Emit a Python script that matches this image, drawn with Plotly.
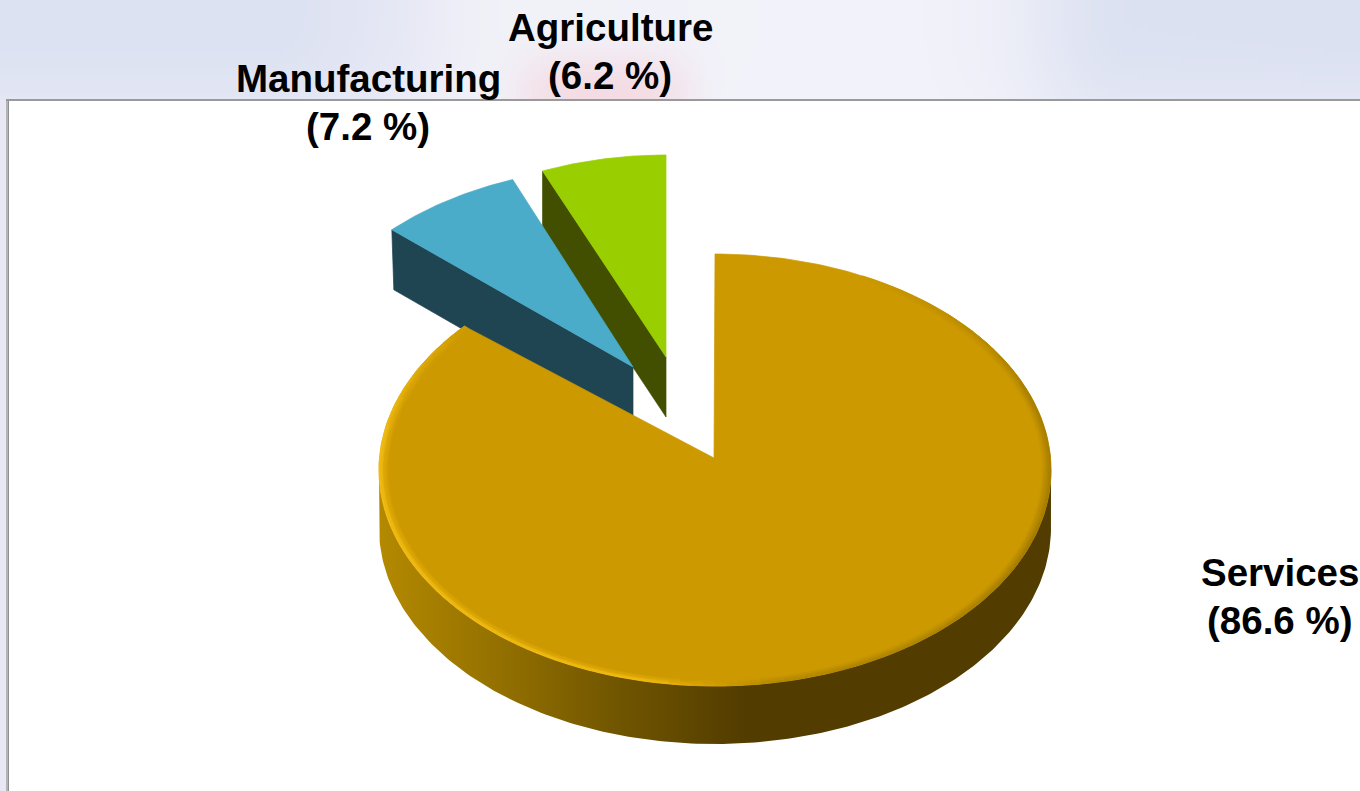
import numpy as np
import plotly.graph_objects as go

# Shares of the economy, in percent, clockwise from twelve o'clock
SECTORS = ["Services", "Manufacturing", "Agriculture"]
SHARES = [86.6, 7.2, 6.2]

TOP_COLORS = ["#cc9900", "#4aacc8", "#99cf00"]
SIDE_COLORS = ["#523c00", "#1f4452", "#424f00"]

# Projected ellipse (cx, cy, rx, ry) and tip (ax, ay) of each wedge on the page
WEDGE_GEOMETRY = [
    (715, 470, 336, 216, 714, 458),
    (638, 359, 330, 194, 633, 367),
    (666, 368, 325, 213, 666, 357),
]
DEPTHS = [58, 60, 60]
FONT = dict(family="Liberation Sans", size=38.5, color="#000000")

# Centre x and first-line y of each two-line label
LABEL_POS = [(1280, 572), (368, 78), (610, 27)]
LINE_STEP = 48


def hex_rgb(h):
    return np.array([int(h[i:i + 2], 16) for i in (1, 3, 5)], dtype=float)


def to_hex(c):
    return "#%02x%02x%02x" % tuple(int(round(v)) for v in c)


def mix(a, b, t):
    return np.asarray(a) * (1 - t) + np.asarray(b) * t


def rim(geom, theta_deg, scale=1.0, dy=0.0):
    cx, cy, rx, ry = geom[:4]
    t = np.radians(theta_deg)
    return cx + scale * rx * np.sin(t), cy - scale * ry * np.cos(t) + dy


# Wedge angles follow from the shares
edges = np.concatenate([[0], np.cumsum(SHARES)]) / sum(SHARES) * 360
spans = list(zip(edges[:-1], edges[1:]))

fig = go.Figure()

# Banner gradient behind the labels, softened along x
bx = np.arange(2, 1360, 4)
by = np.arange(2, 100, 4)
stops_x = [0, 300, 400, 480, 900, 1000, 1100, 1360]
stops_c = ["#dde2f2", "#dde2f2", "#e6e8f5", "#f1f1f8", "#f3f3fb", "#eeeff8", "#dde2f2", "#dce1f2"]
stops_rgb = np.array([hex_rgb(c) for c in stops_c])
kernel = np.ones(15) / 15
banner = np.zeros((len(by), len(bx), 3))
for ch in range(3):
    row = np.interp(bx, stops_x, stops_rgb[:, ch])
    padded = np.concatenate([np.full(7, row[0]), row, np.full(7, row[-1])])
    banner[:, :, ch] = np.convolve(padded, kernel, mode="valid")
lift = (by / 100.0)[:, None, None] ** 3 * 0.3
banner = banner * (1 - lift) + hex_rgb("#f3f4fb") * lift
glow_x = np.exp(-((bx - 605) / 85.0) ** 4)
glow_y = np.clip((by - 35) / 50.0, 0, 1)
glow = np.outer(glow_y, glow_x)[:, :, None] * 0.85
banner = banner * (1 - glow) + hex_rgb("#f5d9e1") * glow
fig.add_trace(go.Image(z=banner.astype(np.uint8), x0=2, dx=4, y0=2, dy=4, hoverinfo="skip"))


def add_polys(polys):
    """Draw a {colour: [(xs, ys), ...]} table as one filled trace per colour."""
    for color, items in polys.items():
        xs, ys = [], []
        for px, py in items:
            xs += list(px) + [px[0], None]
            ys += list(py) + [py[0], None]
        fig.add_trace(go.Scatter(
            x=xs, y=ys, mode="lines", fill="toself", fillcolor=color,
            line=dict(color=color, width=0.7), hoverinfo="skip", showlegend=False,
        ))


# Exploded wedges, back to front
for i in (2, 1):
    g = WEDGE_GEOMETRY[i]
    start, end = spans[i]
    d = DEPTHS[i]
    ax, ay = g[4], g[5]
    sx, sy = rim(g, start)
    side_x = [sx, sx + (2 if i == 1 else 0), ax, ax]
    side_y = [sy, sy + d, ay + d, ay]
    add_polys({SIDE_COLORS[i]: [(side_x, side_y)]})
    th = np.linspace(start, end, 40)
    px, py = rim(g, th)
    add_polys({TOP_COLORS[i]: [([ax] + list(px), [ay] + list(py))]})

# Main wedge: curved wall with a smooth left-to-right shade
g = WEDGE_GEOMETRY[0]
WALL_X = [380, 500, 620, 745, 1060]
WALL_COLORS = ["#b48900", "#937000", "#705500", "#523c00", "#523c00"]
th = np.linspace(90, 270, 200)
tx, ty = rim(g, th)
wall_xs = list(tx) + list(tx[::-1]) + [tx[0]]
wall_ys = list(ty) + list(ty[::-1] + DEPTHS[0]) + [ty[0]]
span = WALL_X[-1] - WALL_X[0]
fig.add_trace(go.Scatter(
    x=wall_xs, y=wall_ys, mode="lines", fill="toself",
    fillgradient=dict(
        type="horizontal", start=WALL_X[0], stop=WALL_X[-1],
        colorscale=[[(x - WALL_X[0]) / span, c] for x, c in zip(WALL_X, WALL_COLORS)],
    ),
    line=dict(width=0), hoverinfo="skip", showlegend=False,
))

# Main wedge: flat top
start, end = spans[0]
th = np.linspace(start, end, 300)
px, py = rim(g, th)
add_polys({TOP_COLORS[0]: [([g[4]] + list(px), [g[5]] + list(py))]})

# Bevel along the rim: bright on the lower left, dark on the right
base = hex_rgb(TOP_COLORS[0])
bright = hex_rgb("#f6c014")
dark = hex_rgb("#a27a00")


def bevel(theta):
    if theta < 178:
        k = np.interp(theta, [25, 70, 110, 170, 178], [0.0, 0.9, 1.0, 0.6, 0.0])
        return dark, k
    k = np.interp(theta, [178, 192, 280, 305, 312], [0.0, 1.0, 1.0, 0.35, 0.0])
    return bright, k


RINGS = np.linspace(1.0, 0.972, 7)
bevel_polys = {}
for r0, r1 in zip(RINGS[:-1], RINGS[1:]):
    fade = 1 - (1 - (r0 + r1) / 2) / (1 - RINGS[-1])
    for a in np.arange(start, end - 1e-6, 2.0):
        b = min(a + 2.0, end)
        tone, k = bevel((a + b) / 2)
        k *= fade
        if k < 0.03:
            continue
        col = to_hex(np.round(mix(base, tone, k) / 4) * 4)
        x0, y0 = rim(g, a, r0)
        x1, y1 = rim(g, b, r0)
        x2, y2 = rim(g, b, r1)
        x3, y3 = rim(g, a, r1)
        bevel_polys.setdefault(col, []).append(([x0, x1, x2, x3], [y0, y1, y2, y3]))
add_polys(bevel_polys)

# Two-line labels: sector name above its share
for name, share, (lx, ly) in zip(SECTORS, SHARES, LABEL_POS):
    for j, line in enumerate((name, f"({share} %)")):
        fig.add_annotation(x=lx, y=ly + j * LINE_STEP, text=f"<b>{line}</b>", showarrow=False,
                           xref="x", yref="y", xanchor="center", yanchor="middle", font=FONT)

# Window frame around the white plot area
fig.update_layout(
    width=1360, height=791, margin=dict(l=0, r=0, t=0, b=0),
    paper_bgcolor="#ffffff", plot_bgcolor="#ffffff", showlegend=False,
    xaxis=dict(range=[0, 1360], visible=False, fixedrange=True),
    yaxis=dict(range=[791, 0], visible=False, fixedrange=True),
    shapes=[
        dict(type="rect", x0=0, x1=6, y0=100, y1=791, fillcolor="#e7e8f4", line_width=0, layer="above"),
        dict(type="rect", x0=6, x1=8, y0=99, y1=791, fillcolor="#b4b4b4", line_width=0, layer="above"),
        dict(type="rect", x0=8, x1=9, y0=100, y1=791, fillcolor="#8e8e8e", line_width=0, layer="above"),
        dict(type="rect", x0=6, x1=1360, y0=99, y1=101, fillcolor="#9a9a9a", line_width=0, layer="above"),
    ],
)

fig.write_html("out.html", config=dict(displayModeBar=False))
